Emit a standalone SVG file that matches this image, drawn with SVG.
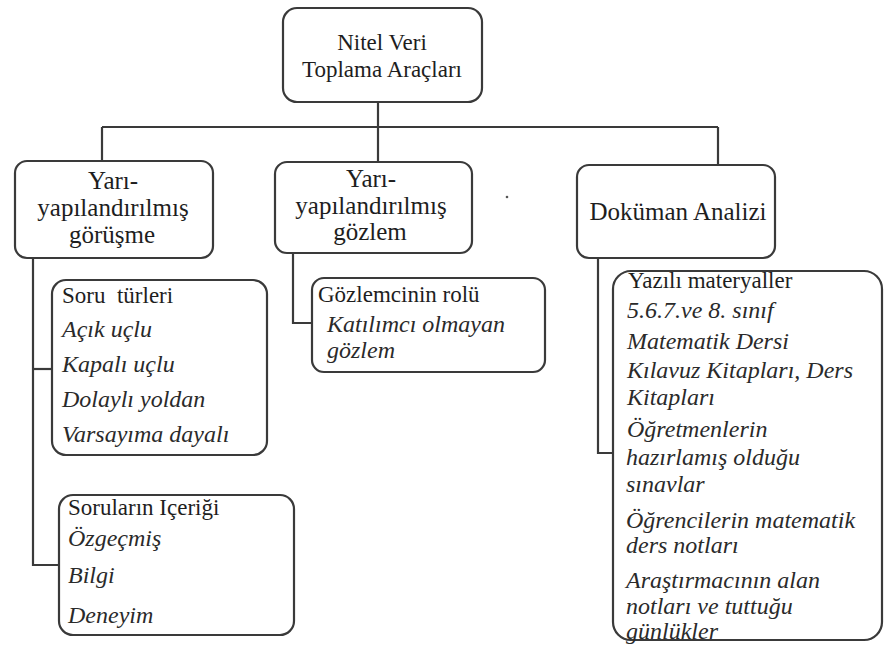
<svg xmlns="http://www.w3.org/2000/svg" width="885" height="648" viewBox="0 0 885 648">
  <style>
    .box { fill: #ffffff; stroke: #3a3a3a; stroke-width: 2.2; }
    .link { fill: none; stroke: #3a3a3a; stroke-width: 2.2; }
    .head { font-size: 25px; text-anchor: middle; fill: #1e1e1e; }
    .top { font-size: 23px; text-anchor: middle; fill: #1e1e1e; }
    .sub { font-size: 23px; fill: #1e1e1e; }
    .it { font-size: 24px; font-style: italic; fill: #2a2a2a; }
    .f1 { font-family: "Liberation Serif"; }
  </style>

  <rect width="885" height="648" fill="#ffffff"/>

  <!-- connectors -->
  <g id="connectors">
    <path class="link" d="M378,102 V127"/>
    <path class="link" d="M102,127 H718"/>
    <path class="link" d="M102,127 V161"/>
    <path class="link" d="M378,127 V162"/>
    <path class="link" d="M718,127 V165"/>
    <path class="link" d="M33,258 V565 H59"/>
    <path class="link" d="M33,369 H52"/>
    <path class="link" d="M293,253 V323 H312"/>
    <path class="link" d="M598,258 V453 H613"/>
  </g>

  <!-- root -->
  <g id="root" class="f1">
    <rect class="box" x="283" y="8" width="199" height="94" rx="14"/>
    <text class="top f1" x="382" y="50">Nitel Veri</text>
    <text class="top f1" x="382" y="77">Toplama Araçları</text>
  </g>

  <!-- level 1 -->
  <g id="gorusme" class="f1">
    <rect class="box" x="15" y="161" width="198" height="97" rx="12"/>
    <text class="head f1" x="113" y="189">Yarı-</text>
    <text class="head f1" x="113" y="216">yapılandırılmış</text>
    <text class="head f1" x="112" y="243">görüşme</text>
  </g>

  <g id="gozlem" class="f1">
    <rect class="box" x="275" y="162" width="197" height="91" rx="12"/>
    <text class="head f1" x="371" y="187">Yarı-</text>
    <text class="head f1" x="371" y="214">yapılandırılmış</text>
    <text class="head f1" x="370" y="240">gözlem</text>
  </g>

  <g id="dokuman" class="f1">
    <rect class="box" x="577" y="165" width="198" height="93" rx="12"/>
    <text class="head f1" x="678" y="220">Doküman Analizi</text>
  </g>

  <!-- level 2 -->
  <g id="soru-turleri" class="f1">
    <rect class="box" x="52" y="280" width="215" height="175" rx="14"/>
    <text class="sub f1" x="62" y="303">Soru&#160; türleri</text>
    <text class="it f1" x="62" y="337">Açık uçlu</text>
    <text class="it f1" x="62" y="372">Kapalı uçlu</text>
    <text class="it f1" x="62" y="407">Dolaylı yoldan</text>
    <text class="it f1" x="62" y="442">Varsayıma dayalı</text>
  </g>

  <g id="sorularin-icerigi" class="f1">
    <rect class="box" x="59" y="495" width="235" height="140" rx="14"/>
    <text class="sub f1" x="68" y="515">Soruların Içeriği</text>
    <text class="it f1" x="68" y="546">Özgeçmiş</text>
    <text class="it f1" x="68" y="583">Bilgi</text>
    <text class="it f1" x="68" y="623">Deneyim</text>
  </g>

  <g id="gozlemci-rolu" class="f1">
    <rect class="box" x="312" y="278" width="233" height="94" rx="12"/>
    <text class="sub f1" x="318" y="302">Gözlemcinin rolü</text>
    <text class="it f1" x="327" y="332">Katılımcı olmayan</text>
    <text class="it f1" x="327" y="358">gözlem</text>
  </g>

  <g id="yazili-materyaller" class="f1">
    <rect class="box" x="613" y="271" width="269" height="369" rx="18"/>
    <text class="sub f1" x="628" y="288">Yazılı materyaller</text>
    <text class="it f1" x="627" y="318">5.6.7.ve 8. sınıf</text>
    <text class="it f1" x="627" y="349">Matematik Dersi</text>
    <text class="it f1" x="627" y="378">Kılavuz Kitapları, Ders</text>
    <text class="it f1" x="627" y="405">Kitapları</text>
    <text class="it f1" x="627" y="437">Öğretmenlerin</text>
    <text class="it f1" x="626" y="465">hazırlamış olduğu</text>
    <text class="it f1" x="626" y="492">sınavlar</text>
    <text class="it f1" x="626" y="528">Öğrencilerin matematik</text>
    <text class="it f1" x="626" y="553">ders notları</text>
    <text class="it f1" x="626" y="588">Araştırmacının alan</text>
    <text class="it f1" x="626" y="614">notları ve tuttuğu</text>
    <text class="it f1" x="626" y="639">günlükler</text>
  </g>

  <!-- stray mark -->
  <circle cx="507" cy="197" r="1.3" fill="#555555"/>
</svg>
